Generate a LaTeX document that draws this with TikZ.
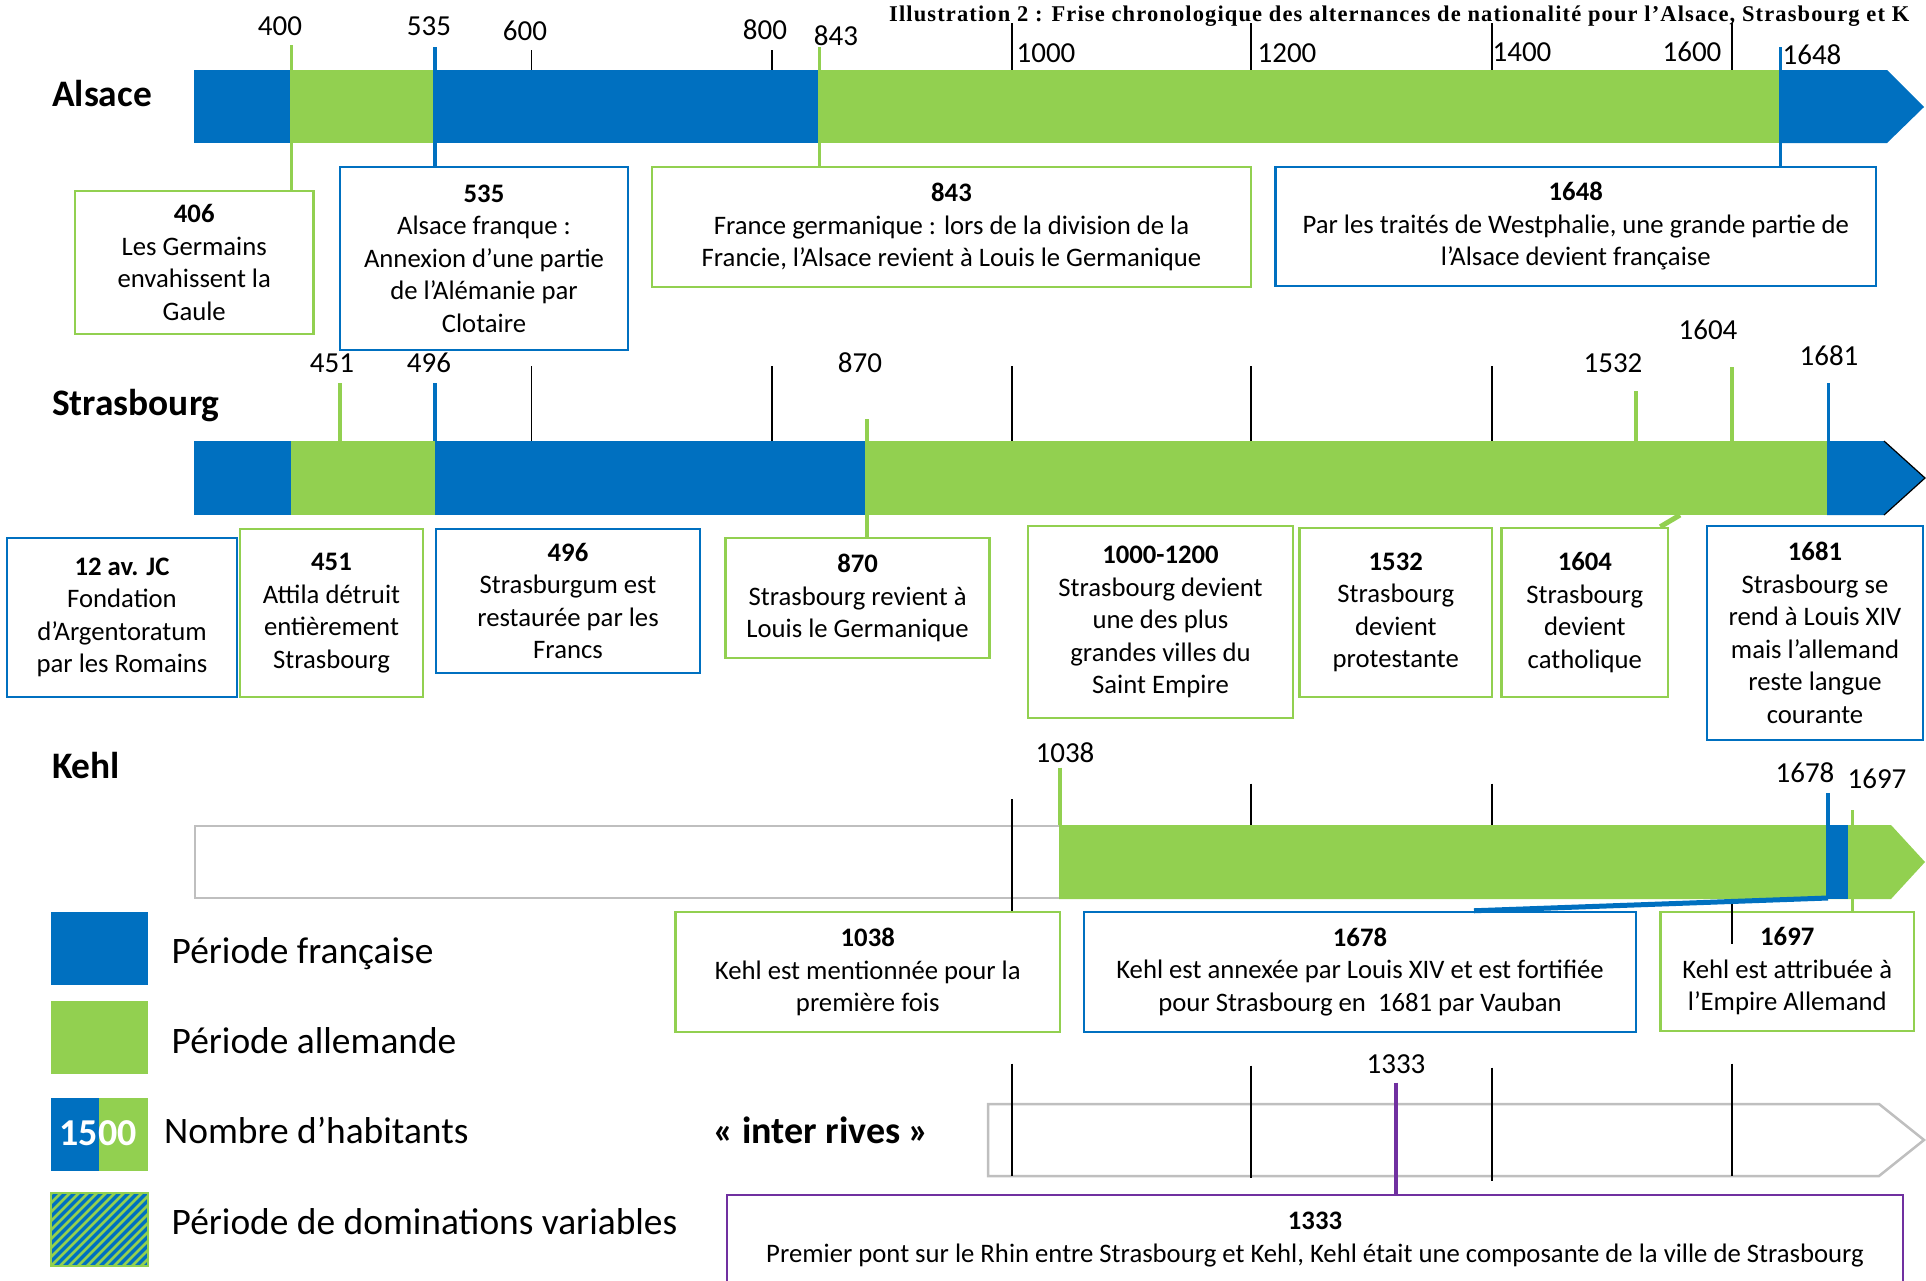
\documentclass[tikz,border=0pt]{standalone}
\usepackage{fontspec}
\setmainfont{Carlito}
\newfontfamily\titlefont[LetterSpace=5]{Liberation Serif}
\definecolor{bleu}{HTML}{0070C0}
\definecolor{vert}{HTML}{92D050}
\definecolor{pourpre}{HTML}{7030A0}
\definecolor{gris}{HTML}{BFBFBF}

\begin{document}
\begin{tikzpicture}[x=1pt, y=-1pt,
    box/.style={draw, line width=2.5pt, fill=white, align=center, inner sep=0pt,
      font=\fontsize{26.7}{32.5}\selectfont},
    gbox/.style={box, draw=vert},
    bbox/.style={box, draw=bleu},
    year/.style={font=\fontsize{29}{31}\selectfont, inner sep=0pt},
    town/.style={font=\bfseries\fontsize{37.4}{42}\selectfont, anchor=base west, inner sep=0pt},
    legtext/.style={font=\fontsize{37.4}{42}\selectfont, anchor=base west, inner sep=0pt},
    grad/.style={black, line width=1.8pt},
    gtick/.style={vert, line width=4pt},
    btick/.style={bleu, line width=4pt}]
    \useasboundingbox (0,0) rectangle (1926,1280);

    \node[font=\titlefont\bfseries\fontsize{22.5}{25}\selectfont, anchor=base west, inner sep=0pt]
      (titre) at (889,21) {Illustration 2 : Frise chronologique des alternances de nationalité pour l’Alsace, Strasbourg et K};

    % Alsace
    \node[town] (alsace) at (52,106) {Alsace};
    \fill[bleu] (194,70) rectangle (291,143);
    \fill[vert] (291,70) rectangle (435,143);
    \fill[bleu] (435,70) rectangle (819,143);
    \fill[vert] (819,70) rectangle (1780,143);
    \fill[bleu] (1780,70) -- (1887,70) -- (1924,107) -- (1887,143) -- (1780,143) -- cycle;
    \foreach \x in {531.5,772} \draw[grad] (\x,50) -- (\x,70);
    \foreach \x in {1012,1251,1492,1732} \draw[grad] (\x,23) -- (\x,70);
    \foreach \x/\y/\t in {280/26/400, 429/26/535, 525/31/600, 765/30/800, 836/36/843,
        1046/53/1000, 1287/53/1200, 1522/52/1400, 1692/52/1600, 1812/55/1648}
      \node[year] at (\x,\y) {\t};

    \node[gbox, minimum width=238.5, minimum height=143] (b406) at (194.25,262.5)
      {\textbf{406}\\Les Germains\\envahissent la\\Gaule};
    \node[bbox, minimum width=288, minimum height=183] (b535) at (484,258.5)
      {\textbf{535}\\Alsace franque :\\Annexion d’une partie\\de l’Alémanie par\\Clotaire};
    \node[gbox, minimum width=599, minimum height=120] (b843) at (951.5,227)
      {\textbf{843}\\France germanique : lors de la division de la\\Francie, l’Alsace revient à Louis le Germanique};
    \node[bbox, minimum width=600.5, minimum height=119] (b1648) at (1575.75,226.5)
      {\textbf{1648}\\Par les traités de Westphalie, une grande partie de\\l’Alsace devient française};

    \coordinate (t400) at (291,45);
    \coordinate (t535) at (435,47);
    \coordinate (t843) at (819,47);
    \coordinate (t1648) at (1780,47);
    \draw[vert, line width=3pt] (t400) -- (t400 |- b406.north);
    \draw[btick] (t535) -- (t535 |- b535.north);
    \draw[vert, line width=3pt] (t843) -- (t843 |- b843.north);
    \draw[bleu, line width=3pt] (t1648) -- (t1648 |- b1648.north);

    % Strasbourg
    \node[town] (strasbourg) at (52,415) {Strasbourg};
    \fill[bleu] (194,441) rectangle (291,515);
    \fill[vert] (291,441) rectangle (435,515);
    \fill[bleu] (435,441) rectangle (866,515);
    \fill[vert] (866,441) rectangle (1827,515);
    \fill[bleu] (1827,441) -- (1884,441) -- (1925,478) -- (1884,515) -- (1827,515) -- cycle;
    \draw[line width=1.2pt] (1884,441) -- (1925,478) -- (1884,515);
    \foreach \x in {531.5,772,1012,1251,1492} \draw[grad] (\x,366) -- (\x,441);
    \draw[gtick] (340,383) -- (340,441);
    \draw[btick] (435,383) -- (435,441);
    \draw[gtick] (1636,391) -- (1636,441);
    \draw[gtick] (1732,367) -- (1732,441);
    \draw[bleu, line width=3pt] (1828,383) -- (1828,441);
    \foreach \x/\y/\t in {332/363/451, 429/363/496, 860/363/870, 1613/363/1532,
        1708/330/1604, 1829/356/1681}
      \node[year] at (\x,\y) {\t};

    \node[bbox, minimum width=230, minimum height=159] (b12) at (122,617.5)
      {\textbf{12 av. JC}\\Fondation\\d’Argentoratum\\par les Romains};
    \node[gbox, minimum width=183, minimum height=168] (b451) at (331.5,613)
      {\textbf{451}\\Attila détruit\\entièrement\\Strasbourg};
    \node[bbox, minimum width=264, minimum height=144] (b496) at (568,601)
      {\textbf{496}\\Strasburgum est\\restaurée par les\\Francs};
    \node[gbox, minimum width=264, minimum height=120] (b870) at (857.6,598)
      {\textbf{870}\\Strasbourg revient à\\Louis le Germanique};
    \node[gbox, minimum width=265, minimum height=192] (b1000) at (1160.5,622)
      {\textbf{1000-1200}\\Strasbourg devient\\une des plus\\grandes villes du\\Saint Empire};
    \node[gbox, minimum width=192.5, minimum height=169] (b1532) at (1395.75,612.5)
      {\textbf{1532}\\Strasbourg\\devient\\protestante};
    \node[gbox, minimum width=166.4, minimum height=169] (b1604) at (1584.8,612.5)
      {\textbf{1604}\\Strasbourg\\devient\\catholique};
    \node[bbox, minimum width=216, minimum height=214] (b1681) at (1815,633)
      {\textbf{1681}\\Strasbourg se\\rend à Louis XIV\\mais l’allemand\\reste langue\\courante};

    \coordinate (t870) at (867,419);
    \draw[gtick] (t870) -- (t870 |- b870.north);
    \draw[vert, line width=5pt] ([xshift=-9pt]b1604.north east) -- (1680,515);

    % Kehl
    \node[town] (kehl) at (52,778) {Kehl};
    \draw[gris, line width=2.5pt, fill=white] (195,826) rectangle (1060,898);
    \fill[vert] (1059,825) -- (1891,825) -- (1925,862) -- (1891,899) -- (1059,899) -- cycle;
    \fill[bleu] (1826,825) rectangle (1848,899);
    \foreach \x in {1251,1492} \draw[grad] (\x,783.6) -- (\x,825);
    \draw[gtick] (1060,767.5) -- (1060,825);
    \draw[btick] (1828,793) -- (1828,825);
    \foreach \x/\y/\t in {1065/753/1038, 1805/773/1678, 1877/779/1697}
      \node[year] at (\x,\y) {\t};

    \node[gbox, minimum width=384.5, minimum height=120] (b1038) at (867.75,972)
      {\textbf{1038}\\Kehl est mentionnée pour la\\première fois};
    \node[bbox, minimum width=552, minimum height=120] (b1678) at (1360,972)
      {\textbf{1678}\\Kehl est annexée par Louis XIV et est fortifiée\\pour Strasbourg en~~1681 par Vauban};
    \node[gbox, minimum width=253.5, minimum height=119] (b1697) at (1787.25,971.5)
      {\textbf{1697}\\Kehl est attribuée à\\l’Empire Allemand};

    \coordinate (k1000) at (1012,799);
    \coordinate (k1697) at (1852,810);
    \draw[grad] (k1000) -- (k1000 |- b1038.north);
    \draw[vert, line width=3pt] (k1697) -- (k1697 |- b1697.north);
    \draw[grad] (1732,899) -- (1732,944);
    \draw[bleu, line width=5pt] (1828,898) -- ([xshift=114pt]b1678.north);

    % inter rives
    \node[font=\bfseries\fontsize{38}{42}\selectfont, anchor=base west, inner sep=0pt]
      (rives) at (713,1143) {« inter rives »};
    \draw[gris, line width=2.5pt, fill=white]
      (988,1104) -- (1879,1104) -- (1924,1140) -- (1879,1176) -- (988,1176) -- cycle;
    \draw[grad] (1012,1063.6) -- (1012,1176);
    \draw[grad] (1251,1065.7) -- (1251,1178);
    \draw[grad] (1492,1067.5) -- (1492,1180.7);
    \draw[grad] (1732,1063.6) -- (1732,1176);
    \node[year] at (1396,1064) {1333};
    \node[box, draw=pourpre, minimum width=1176, minimum height=89] (b1333) at (1315,1239.5)
      {\textbf{1333}\\Premier pont sur le Rhin entre Strasbourg et Kehl, Kehl était une composante de la ville de Strasbourg};
    \coordinate (t1333) at (1396,1082.5);
    \draw[pourpre, line width=4pt] (t1333) -- (t1333 |- b1333.north);

    % legende
    \fill[bleu] (51,912) rectangle (148,985);
    \node[legtext] (lfr) at (171.5,963) {Période française};
    \fill[vert] (51,1001) rectangle (148,1073.6);
    \node[legtext] (lal) at (171.5,1053) {Période allemande};
    \fill[bleu] (51,1097.5) rectangle (99,1171);
    \fill[vert] (99,1097.5) rectangle (148,1171);
    \node[font=\bfseries\fontsize{38}{42}\selectfont, text=white, anchor=base, inner sep=0pt]
      (n1500) at (98,1145) {1500};
    \node[legtext] (lhab) at (164,1143) {Nombre d’habitants};
    \begin{scope}
      \clip (51,1193) rectangle (148,1266);
      \fill[bleu] (51,1193) rectangle (148,1266);
      \foreach \i in {-81,-72,...,100} \draw[vert, line width=2.7pt] (51+\i,1266) -- ++(80,-80);
    \end{scope}
    \draw[vert, line width=2pt] (51,1193) rectangle (148,1266);
    \node[legtext] (ldom) at (171.5,1234) {Période de dominations variables};
\end{tikzpicture}
\end{document}
